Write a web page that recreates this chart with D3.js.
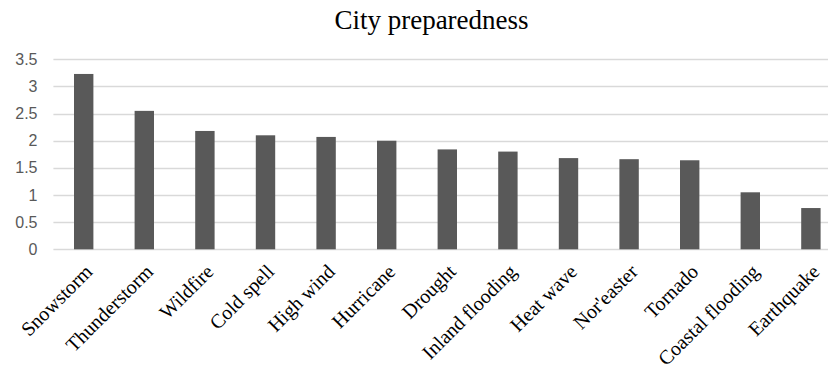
<!DOCTYPE html>
<html>
<head>
<meta charset="utf-8">
<script src="https://cdn.jsdelivr.net/npm/d3@7"></script>
<style>
  html, body { margin: 0; padding: 0; background: #fff; }
  svg { display: block; }
</style>
</head>
<body>
<svg id="chart" width="828" height="369"></svg>
<script>
const categories = ["Snowstorm", "Thunderstorm", "Wildfire", "Cold spell", "High wind", "Hurricane", "Drought", "Inland flooding", "Heat wave", "Nor'easter", "Tornado", "Coastal flooding", "Earthquake"];
const values = [3.23, 2.55, 2.18, 2.10, 2.07, 2.00, 1.84, 1.80, 1.68, 1.66, 1.64, 1.05, 0.76];
const yTicks = [0, 0.5, 1, 1.5, 2, 2.5, 3, 3.5];
const chartTitle = "City preparedness";

const plotLeft = 53.4, bandStep = 60.6;
const plotRight = plotLeft + categories.length * bandStep;
const plotTop = 59.3, plotBottom = 249.3;

const svg = d3.select("#chart");

const x = d3.scaleBand().domain(categories).range([plotLeft, plotRight]).paddingInner(0.68).paddingOuter(0.34);
const y = d3.scaleLinear().domain([0, 3.5]).range([plotBottom, plotTop]);

// gridlines
svg.append("g").selectAll("line").data(yTicks).join("line")
  .attr("x1", plotLeft).attr("x2", plotRight)
  .attr("y1", d => Math.round(y(d)) + 0.5).attr("y2", d => Math.round(y(d)) + 0.5)
  .attr("stroke", "#d9d9d9").attr("stroke-width", 1.3);

// y axis labels
const yAxis = d3.axisLeft(y).tickValues(yTicks).tickSize(0).tickPadding(0).tickFormat(d3.format("~g"));
const yg = svg.append("g").attr("transform", `translate(${37.5},0)`).call(yAxis);
yg.select(".domain").remove();
yg.selectAll("text")
  .attr("font-family", "'Liberation Sans', Arial, sans-serif")
  .attr("font-size", 16).attr("fill", "#595959");

// bars
svg.append("g").selectAll("rect").data(categories).join("rect")
  .attr("x", d => x(d))
  .attr("width", x.bandwidth())
  .attr("y", (d, i) => y(values[i]))
  .attr("height", (d, i) => y(0) - y(values[i]))
  .attr("fill", "#595959");

// x axis labels
const xAxis = d3.axisBottom(x).tickSize(0).tickPadding(0);
const xg = svg.append("g").attr("transform", `translate(0,${263})`).call(xAxis);
xg.select(".domain").remove();
xg.selectAll("text")
  .attr("font-family", "'Liberation Serif', 'Times New Roman', serif")
  .attr("font-size", 20).attr("fill", "#000")
  .attr("text-anchor", "end")
  .attr("dy", "14px").attr("y", 0).attr("x", 0)
  .attr("transform", "rotate(-45)");

// title
svg.append("text")
  .attr("x", 431.5).attr("y", 28.5)
  .attr("text-anchor", "middle")
  .attr("font-family", "'Liberation Serif', 'Times New Roman', serif")
  .attr("font-size", 27).attr("fill", "#000")
  .text(chartTitle);
</script>
</body>
</html>
